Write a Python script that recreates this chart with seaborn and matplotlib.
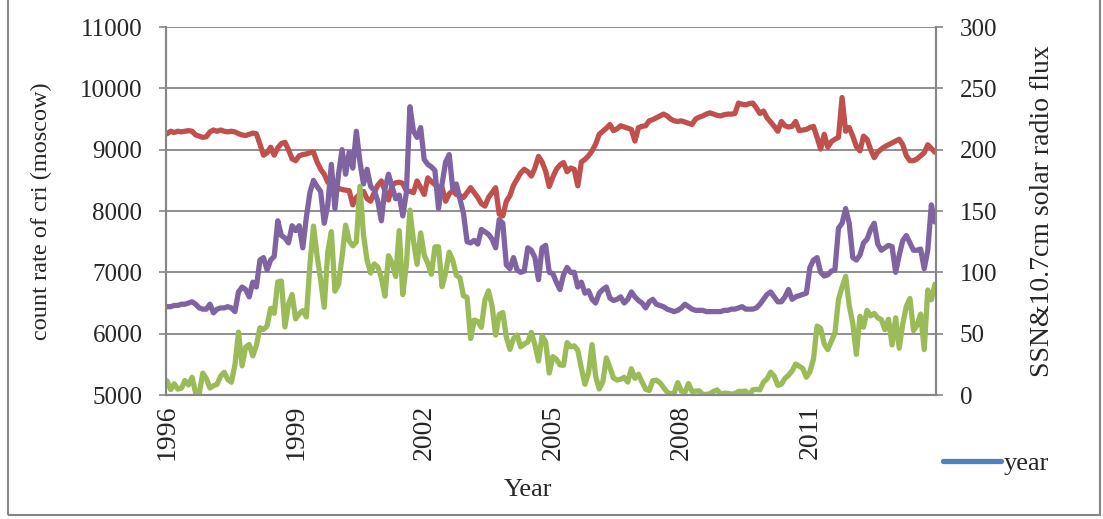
import numpy as np
import pandas as pd
import matplotlib
matplotlib.use("Agg")
import matplotlib.pyplot as plt
import seaborn as sns
from matplotlib.lines import Line2D
from matplotlib.patches import Rectangle

# monthly values, 1996.01 ~ 2013.12 (216 months)
# cosmic ray count rate, Moscow neutron monitor (left axis)
cri_moscow = [
    9260, 9300, 9280, 9300, 9290, 9300, 9310, 9300, 9240, 9220, 9200, 9210,
    9290, 9320, 9300, 9320, 9300, 9290, 9300, 9290, 9260, 9240, 9230, 9250,
    9270, 9260, 9090, 8910, 8950, 9040, 8910, 9030, 9100, 9120,
    9000, 8850, 8820, 8900, 8920, 8930, 8950, 8960, 8800, 8680, 8600, 8470,
    8420, 8380, 8370, 8350, 8340, 8330, 8100, 8220, 8280, 8320, 8200, 8160,
    8300, 8420, 8490, 8330, 8180, 8420, 8460, 8470, 8450, 8330, 8320, 8300,
    8490, 8380, 8270, 8540, 8480, 8430, 8400, 8380, 8160, 8280, 8330, 8270,
    8250, 8220, 8300, 8380, 8300, 8220, 8120, 8080, 8220, 8300, 8380, 7950,
    7920, 8160, 8250, 8420, 8520, 8620, 8680, 8640, 8570, 8700, 8890,
    8800, 8650, 8400, 8550, 8680, 8750, 8790, 8640, 8700, 8680, 8410, 8800,
    8840, 8900, 8980, 9090, 9250, 9300, 9350, 9410, 9310, 9340, 9390, 9370,
    9350, 9330, 9140, 9360, 9380, 9390, 9470, 9490, 9520, 9550, 9580,
    9550, 9500, 9470, 9460, 9470, 9450, 9430, 9410, 9500, 9530, 9550, 9580,
    9600, 9580, 9560, 9550, 9570, 9580, 9580, 9590, 9760, 9740, 9730, 9750,
    9760, 9680, 9590, 9630, 9520, 9450, 9380, 9300, 9460, 9390, 9370,
    9380, 9460, 9310, 9320, 9330, 9360, 9380, 9200, 9010, 9250, 9040, 9130,
    9170, 9200, 9850, 9300, 9360, 9220, 9050, 8980, 9220, 9170, 9000, 8870,
    8960, 9010, 9050, 9080, 9110, 9140, 9170, 9080, 8900, 8820, 8820, 8850,
    8900, 8950, 9080, 9020, 8960,
]

# 10.7cm solar radio flux (right axis)
f107_flux = [
    72, 72, 73, 73, 74, 74, 75, 76, 74, 71, 70, 70,
    74, 67, 70, 71, 71, 72, 71, 68, 84, 88, 86, 80,
    92, 88, 110, 112, 102, 110, 113, 142, 130, 128,
    124, 138, 134, 138, 120, 145, 165, 175, 170, 166, 140, 155,
    188, 152, 180, 200, 180, 198, 185, 215, 190, 172, 184, 170,
    167, 158, 142, 168, 180, 170, 160, 163, 146, 165, 235,
    215, 210, 218, 192, 188, 186, 183, 152, 172, 190, 196, 168,
    172, 160, 148, 125, 124, 126, 123, 135, 133, 131, 127, 120,
    143, 140, 106, 103, 112, 102, 100, 101, 120, 118, 112, 94,
    120, 122, 100, 99, 92, 86, 98, 104, 100, 100, 88, 92,
    83, 85, 78, 75, 83, 86, 88, 79, 77, 78, 80, 75,
    78, 84, 80, 77, 75, 71, 76, 78, 74, 73, 72,
    70, 69, 68, 69, 71, 74, 72, 70, 69, 69, 69, 68,
    68, 68, 68, 68, 69, 69, 70, 70, 71, 72, 70, 70,
    70, 71, 74, 78, 82, 84, 80, 76, 76, 80, 86,
    78, 80, 81, 82, 83, 104, 110, 112, 100, 97, 98, 101,
    102, 136, 140, 152, 140, 112, 110, 114, 124, 127, 135, 140,
    123, 118, 120, 122, 121, 100, 114, 126, 130, 124, 118, 118,
    119, 103, 118, 155, 141,
]

# sunspot number (right axis)
ssn = [
    11.5, 4.4, 9.2, 4.8, 5.5, 11.8, 8.2, 14.4, 1.6, 0.9, 17.9, 13.3,
    5.7, 7.6, 8.7, 15.5, 18.5, 12.7, 10.4, 24.4, 51.3, 23.8, 39.0, 41.2,
    31.9, 40.3, 54.8, 53.4, 56.3, 70.7, 66.6, 92.2, 92.9, 55.5, 74.0, 81.9,
    62.0, 66.3, 68.8, 63.7, 106.4, 137.7, 113.5, 93.7, 71.5, 116.7, 133.2, 84.6,
    90.1, 112.9, 138.5, 125.5, 121.6, 124.9, 170.1, 130.5, 109.7, 99.4, 106.8, 104.4,
    95.6, 80.6, 113.5, 107.7, 96.6, 134.0, 81.8, 106.4, 150.7, 125.5, 106.5, 132.2,
    114.1, 107.4, 98.4, 120.7, 120.8, 88.3, 99.6, 116.4, 109.6, 97.5, 95.5, 80.8,
    79.7, 46.0, 61.1, 60.0, 55.2, 77.4, 85.0, 72.7, 48.8, 65.6, 67.2, 47.0,
    37.2, 46.0, 48.9, 39.3, 41.5, 43.2, 51.1, 40.9, 27.7, 48.0, 43.5, 17.9,
    31.3, 29.2, 24.5, 24.2, 42.7, 39.3, 40.1, 36.4, 21.9, 8.7, 18.0, 41.1,
    15.3, 4.9, 10.6, 30.2, 22.3, 13.9, 12.2, 12.9, 14.4, 10.5, 21.4, 13.6,
    16.9, 10.6, 4.8, 3.7, 11.7, 12.0, 10.0, 6.2, 2.4, 0.9, 1.7, 10.1,
    3.3, 2.1, 9.3, 2.9, 3.2, 3.4, 0.5, 0.5, 1.1, 2.9, 4.1, 0.8,
    1.5, 1.4, 0.7, 1.2, 2.9, 2.9, 3.2, 0.0, 4.2, 4.6, 4.2, 10.6,
    13.1, 18.6, 15.4, 7.9, 8.8, 13.5, 16.1, 19.6, 25.2, 23.5, 21.6, 14.5,
    19.0, 29.4, 56.2, 54.4, 41.6, 37.0, 43.9, 50.6, 78.0, 88.0, 96.7, 73.0,
    58.3, 33.1, 64.2, 55.2, 69.0, 64.5, 66.5, 63.0, 61.4, 53.3, 61.8, 40.8,
    62.9, 38.1, 57.9, 72.4, 78.7, 52.5, 57.0, 66.0, 37.0, 85.6, 77.6, 90.3,
]

year_labels = ["1996", "1999", "2002", "2005", "2008", "2011"]
year_label_pos = [0, 36, 72, 108, 144, 180]

month = np.arange(len(ssn))
df = pd.DataFrame({"month": month, "cri": cri_moscow, "f107": f107_flux, "ssn": ssn})

sns.set_style("white")
plt.rcParams["font.family"] = ["Liberation Serif", "DejaVu Serif"]

GRAY = "#868686"
W, H = 1103, 519

fig = plt.figure(figsize=(W / 100, H / 100), dpi=100)
ax = fig.add_axes([166 / W, 1 - 395 / H, 770 / W, 368 / H])
ax2 = ax.twinx()

line_kw = dict(lw=3.8, solid_joinstyle="round", solid_capstyle="round")
sns.lineplot(data=df, x="month", y="cri", ax=ax, color="#C0504D", **line_kw)
sns.lineplot(data=df, x="month", y="f107", ax=ax2, color="#8064A2", **line_kw)
sns.lineplot(data=df, x="month", y="ssn", ax=ax2, color="#9BBB59", **line_kw)

ax.set_xlim(-0.3, 215.3)
ax.set_ylim(5000, 11000)
ax2.set_ylim(0, 300)
ax.set_yticks(range(5000, 11001, 1000))
ax2.set_yticks(range(0, 301, 50))
ax.set_xticks(year_label_pos)
ax.set_xticklabels(year_labels, rotation=90, fontsize=20)
ax.set_xticks(month, minor=True)

ax.yaxis.grid(True, color=GRAY, lw=1.3)
ax.set_axisbelow(True)
ax2.grid(False)

for a in (ax, ax2):
    a.spines["top"].set_visible(False)
    for s in ("left", "right", "bottom"):
        a.spines[s].set_color(GRAY)
        a.spines[s].set_linewidth(1.5)
    a.tick_params(axis="y", which="both", direction="out", color=GRAY,
                  length=5, width=1.2, labelsize=18, pad=12)
ax.tick_params(axis="x", which="both", direction="out", color=GRAY, width=0.8)
ax.tick_params(axis="x", which="minor", length=4)
ax.tick_params(axis="x", which="major", length=4, pad=3)

ax.set_xlabel("Year", fontsize=19)
ax.xaxis.set_label_coords((528 - 166) / 770, -(479 - 395) / 368)
ax.set_ylabel("count rate of cri (moscow)", fontsize=17.5)
ax.yaxis.set_label_coords((52 - 166) / 770, 0.5)
ax2.set_ylabel("SSN&10.7cm solar radio flux", fontsize=20)
ax2.yaxis.set_label_coords((1030 - 166) / 770, 0.5)

fig.legend(handles=[Line2D([], [], color="#4F81BD", lw=3.8, solid_capstyle="round")],
           labels=["year"], loc="center left",
           bbox_to_anchor=(943 / W, 1 - 463 / H), frameon=False,
           handlelength=2.2, handletextpad=0.1, borderpad=0, borderaxespad=0,
           fontsize=19)

fig.add_artist(Rectangle((8 / W, 4 / H), 1092 / W, 1.2, transform=fig.transFigure,
                         fill=False, edgecolor=GRAY, lw=1.5))

fig.savefig("out.png", dpi=100)
